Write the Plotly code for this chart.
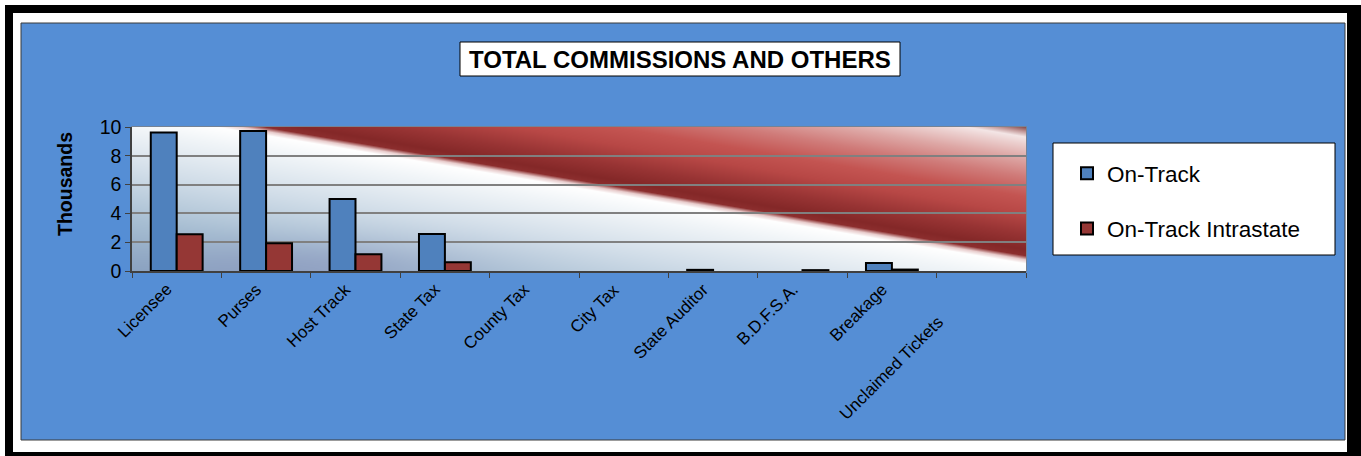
import numpy as np, zlib, struct, base64
import plotly.graph_objects as go

# ---- data ----
categories = ["Licensee", "Purses", "Host Track", "State Tax", "County Tax",
              "City Tax", "State Auditor", "B.D.F.S.A.", "Breakage", "Unclaimed Tickets"]
on_track = [9.62, 9.72, 5.0, 2.57, 0, 0, 0.08, 0, 0.56, 0]
on_track_intrastate = [2.55, 1.92, 1.16, 0.6, 0, 0, 0, 0.06, 0.1, 0]
y_ticks = [0, 2, 4, 6, 8, 10]
# category labels as shown (the last source label carries trailing spaces)
NB = "\u00a0"
tick_labels = ["Licensee", "Purses", "Host Track", "State Tax", "County Tax", "City Tax",
               "State Auditor", "B.D.F.S.A.", "Breakage", "Unclaimed Tickets" + NB * 10]

# ---- geometry (pixels) ----
W, H = 1361, 456
PL, PR, PT, PB = 132, 1026, 127, 271
pw, ph = PR - PL, PB - PT
def px_x(p): return (p - PL) / pw
def px_y(p): return (PB - p) / ph

# ---- background gradient image for plot area ----
def png_uri(arr):
    h, w, _ = arr.shape
    raw = b"".join(b"\x00" + arr[r].tobytes() for r in range(h))
    def chunk(t, d):
        return struct.pack(">I", len(d)) + t + d + struct.pack(">I", zlib.crc32(t + d) & 0xffffffff)
    png = (b"\x89PNG\r\n\x1a\n" + chunk(b"IHDR", struct.pack(">IIBBBBB", w, h, 8, 2, 0, 0, 0))
           + chunk(b"IDAT", zlib.compress(raw, 9)) + chunk(b"IEND", b""))
    return "data:image/png;base64," + base64.b64encode(png).decode()

gx = np.arange(pw) + 0.5 + PL
gy = np.arange(ph) + 0.5 + PT
X, Y = np.meshgrid(gx, gy)
s = (0.169 * (X - 240) - (Y - 127)) / 1.0142
stops = [(-175, (0x84, 0xa0, 0xbe)), (-110, (0xa8, 0xbf, 0xd3)), (-60, (0xd2, 0xde, 0xe9)),
         (-20, (0xf1, 0xf5, 0xf8)), (-4, (255, 255, 255)), (0, (0xe8, 0xcc, 0xcc)),
         (4, (0x8c, 0x2e, 0x2e)), (10, (0x84, 0x28, 0x28)), (25, (0x98, 0x34, 0x34)),
         (45, (0xb8, 0x48, 0x46)), (62, (0xc4, 0x55, 0x52)), (82, (0xd0, 0x7c, 0x7a)),
         (100, (0xde, 0xa8, 0xa6)), (114, (0xec, 0xd0, 0xcf)), (121, (0xf4, 0xe6, 0xe6)),
         (126, (0xc4, 0x9a, 0x9a)), (133, (0x6a, 0x2a, 0x2a))]
pos = [p for p, _ in stops]
img = np.zeros((ph, pw, 3))
for c in range(3):
    img[..., c] = np.interp(s, pos, [col[c] for _, col in stops])
wgt = 0.45 * np.exp(-((X - 300) / 160) ** 2 - ((Y - 268) / 28) ** 2) * (s < -20)
purple = np.array([0x84, 0x8c, 0xb8])
img = img * (1 - wgt[..., None]) + purple * wgt[..., None]
bg_uri = png_uri(np.clip(img, 0, 255).astype(np.uint8))

FONT = "Liberation Sans, Arial, sans-serif"

def outline_widths(vals):
    return [2 if v > 0 else 0 for v in vals]

fig = go.Figure()
fig.add_trace(go.Bar(x=categories, y=on_track, name="On-Track", legendgroup="a",
                     marker=dict(color="#4f81bd",
                                 line=dict(color="black", width=outline_widths(on_track)))))
fig.add_trace(go.Bar(x=categories, y=on_track_intrastate, name="On-Track Intrastate", legendgroup="b",
                     marker=dict(color="#953735",
                                 line=dict(color="black", width=outline_widths(on_track_intrastate)))))

def rect(x0, y0, x1, y1, fill, line_color=None, lw=0):
    return dict(type="rect", xref="paper", yref="paper", layer="below",
                x0=px_x(x0), x1=px_x(x1), y0=px_y(y1), y1=px_y(y0),
                fillcolor=fill, line=dict(color=line_color or fill, width=lw))

shapes = [
    rect(5, 5, W + 5, H + 5, "black"),
    rect(13, 13, 1347, 452, "white"),
    rect(21, 23, 1345, 440, "#558ed5", "#3a3a3a", 1),
    rect(460, 42, 900, 76, "white", "black", 1),
    rect(1053, 143, 1335, 255, "white", "black", 1),
    dict(type="rect", xref="x domain", yref="y domain", layer="below",
         x0=0, x1=1, y0=0, y1=1, line=dict(color="#808080", width=1.5)),
]

annotations = [
    dict(text="<b>TOTAL COMMISSIONS AND OTHERS</b>", xref="paper", yref="paper",
         x=px_x(680), y=px_y(59.5), xanchor="center", yanchor="middle",
         showarrow=False, font=dict(size=24, family=FONT, color="black")),
    dict(text="<b>Thousands</b>", xref="paper", yref="paper", textangle=-90,
         x=px_x(65), y=px_y(184), xanchor="center", yanchor="middle",
         showarrow=False, font=dict(size=19.5, family=FONT, color="black")),
]
# category labels, rotated, hanging below the axis
for cat, lab in zip(categories, tick_labels):
    annotations.append(dict(text=lab, x=cat, xref="x", y=0, yref="y", textangle=-45,
                            xanchor="right", yanchor="top", xshift=2, yshift=-6,
                            showarrow=False, font=dict(size=17, family=FONT, color="black")))

fig.update_layout(
    width=W, height=H, autosize=False,
    margin=dict(l=PL, r=W - PR, t=PT, b=H - PB, pad=0),
    paper_bgcolor="white", plot_bgcolor="rgba(0,0,0,0)",
    barmode="group", bargap=0.42, bargroupgap=0,
    font=dict(family=FONT, color="black"),
    shapes=shapes,
    images=[dict(source=bg_uri, xref="x domain", yref="y domain", x=0, y=1,
                 sizex=1, sizey=1, xanchor="left", yanchor="top",
                 sizing="stretch", layer="below")],
    annotations=annotations,
    legend=dict(x=px_x(1067), y=px_y(152), xanchor="left", yanchor="top",
                bgcolor="rgba(0,0,0,0)", borderwidth=0, font=dict(size=22.5, family=FONT),
                tracegroupgap=23, itemwidth=30),
    showlegend=True,
)
fig.update_xaxes(type="category", range=[-0.5, len(categories) - 0.5], autorange=False,
                 tickson="boundaries", ticks="outside", ticklen=5,
                 tickcolor="#404040", showticklabels=False,
                 showline=True, linecolor="#404040", linewidth=1.5, showgrid=False)
fig.update_yaxes(range=[0, 10], autorange=False, tickvals=y_ticks, ticks="outside", ticklen=5,
                 tickcolor="#404040",
                 tickfont=dict(size=19.5, family=FONT), showline=True, linecolor="#404040",
                 linewidth=1.5, showgrid=True, gridcolor="#808080", gridwidth=1.5,
                 zeroline=False)

fig.write_html("out.html", config={"displayModeBar": False},
               post_script="document.body.style.margin='0';document.body.style.overflow='hidden';")
